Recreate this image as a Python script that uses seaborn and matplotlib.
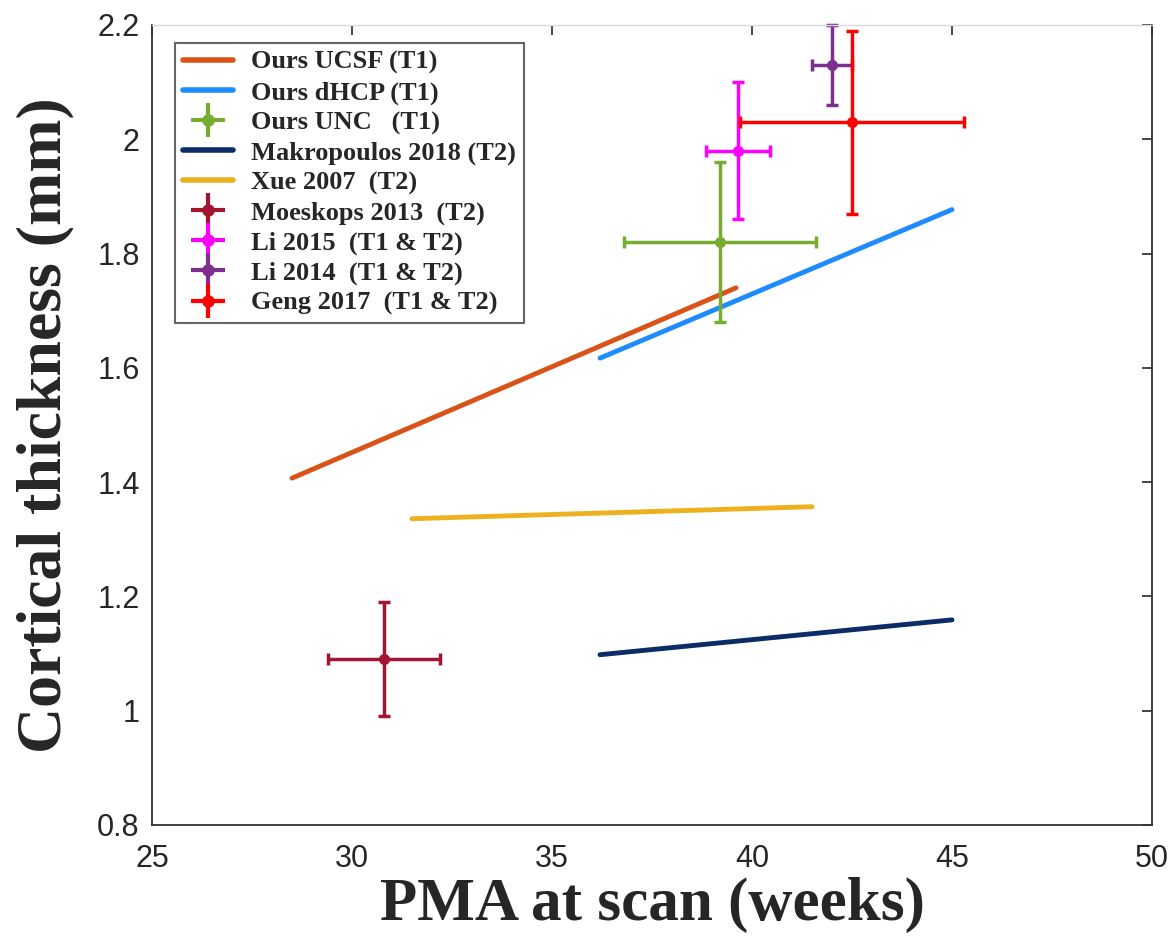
import matplotlib
matplotlib.use("Agg")
import matplotlib.pyplot as plt
from matplotlib.lines import Line2D
from matplotlib.legend_handler import HandlerTuple
import seaborn as sns
import pandas as pd

sns.set_style("white")
plt.rcParams['font.family'] = ['Liberation Sans', 'DejaVu Sans']

# Line series: (x start, x end), (y start, y end)
line_names = ["Ours UCSF (T1)", "Ours dHCP (T1)", "Makropoulos 2018 (T2)", "Xue 2007  (T2)"]
line_x = [[28.5, 39.6], [36.2, 45.0], [36.2, 45.0], [31.5, 41.5]]
line_y = [[1.407, 1.74], [1.617, 1.877], [1.098, 1.159], [1.336, 1.357]]
line_colors = ["#D95319", "#1E8CFF", "#0B2C66", "#EDB120"]

# Point series with error bars
pt_names = ["Ours UNC   (T1)", "Moeskops 2013  (T2)", "Li 2015  (T1 & T2)",
            "Li 2014  (T1 & T2)", "Geng 2017  (T1 & T2)"]
pt_x = [39.2, 30.8, 39.65, 42.0, 42.5]
pt_y = [1.82, 1.09, 1.98, 2.13, 2.03]
pt_xerr = [2.4, 1.4, 0.8, 0.5, 2.8]
pt_yerr = [0.14, 0.10, 0.12, 0.07, 0.16]
pt_colors = ["#77AC30", "#A2142F", "#FF00FF", "#7E2F8E", "#FF0000"]

legend_order = ["Ours UCSF (T1)", "Ours dHCP (T1)", "Ours UNC   (T1)", "Makropoulos 2018 (T2)",
                "Xue 2007  (T2)", "Moeskops 2013  (T2)", "Li 2015  (T1 & T2)",
                "Li 2014  (T1 & T2)", "Geng 2017  (T1 & T2)"]

fig = plt.figure(figsize=(11.74, 9.42), dpi=100)
ax = fig.add_axes([152/1174, 1-825/942, 1000/1174, 800/942])

handles = {}
for name, xs, ys, c in zip(line_names, line_x, line_y, line_colors):
    df = pd.DataFrame({"x": xs, "y": ys})
    sns.lineplot(data=df, x="x", y="y", ax=ax, color=c, linewidth=3.5, label=name)
    handles[name] = Line2D([], [], color=c, linewidth=4)

for name, x, y, xe, ye, c in zip(pt_names, pt_x, pt_y, pt_xerr, pt_yerr, pt_colors):
    ax.errorbar([x], [y], xerr=[xe], yerr=[ye], fmt='o', color=c, ecolor=c,
                markersize=7, elinewidth=2.5, capsize=4, capthick=2.5,
                clip_on=False)
    handles[name] = (Line2D([], [], marker='+', markersize=24, markeredgewidth=3,
                            linestyle='none', color=c),
                     Line2D([], [], marker='o', markersize=8, linestyle='none', color=c))

ax.set_xlim(25, 50)
ax.set_ylim(0.8, 2.2)
ax.set_xticks([25, 30, 35, 40, 45, 50])
ax.set_yticks([0.8, 1.0, 1.2, 1.4, 1.6, 1.8, 2.0, 2.2])
ax.set_yticklabels(["0.8", "1", "1.2", "1.4", "1.6", "1.8", "2", "2.2"])
ax.tick_params(axis='both', direction='in', length=7, width=1.2, top=True, right=True,
               labelsize=22, colors="#262626")
ax.tick_params(axis='x', pad=14)
ax.tick_params(axis='y', pad=9)
for lab in ax.get_xticklabels() + ax.get_yticklabels():
    lab.set_color("#262626")
for k, sp in ax.spines.items():
    sp.set_color("#333333")
    sp.set_linewidth(1.3)
ax.spines["top"].set_color("#d8d8d8")
ax.spines["top"].set_linewidth(1.0)

ax.set_xlabel("PMA at scan (weeks)", family="Liberation Serif", fontweight="bold",
              fontsize=44, labelpad=2)
ax.set_ylabel("Cortical thickness (mm)", family="Liberation Serif", fontweight="bold",
              fontsize=46, labelpad=16)

if ax.get_legend() is not None:
    ax.get_legend().remove()
leg = ax.legend([handles[n] for n in legend_order], legend_order,
                handler_map={tuple: HandlerTuple(ndivide=1)},
                loc="upper left", bbox_to_anchor=(0.023, 0.978), frameon=True, fancybox=False,
                edgecolor="#404040", prop={"family": "Liberation Serif", "weight": "bold", "size": 19},
                handlelength=1.9, handletextpad=0.68, labelspacing=0.235, borderpad=0.3,
                borderaxespad=0)
leg.get_frame().set_linewidth(1.5)

fig.savefig("out.png", dpi=100)
